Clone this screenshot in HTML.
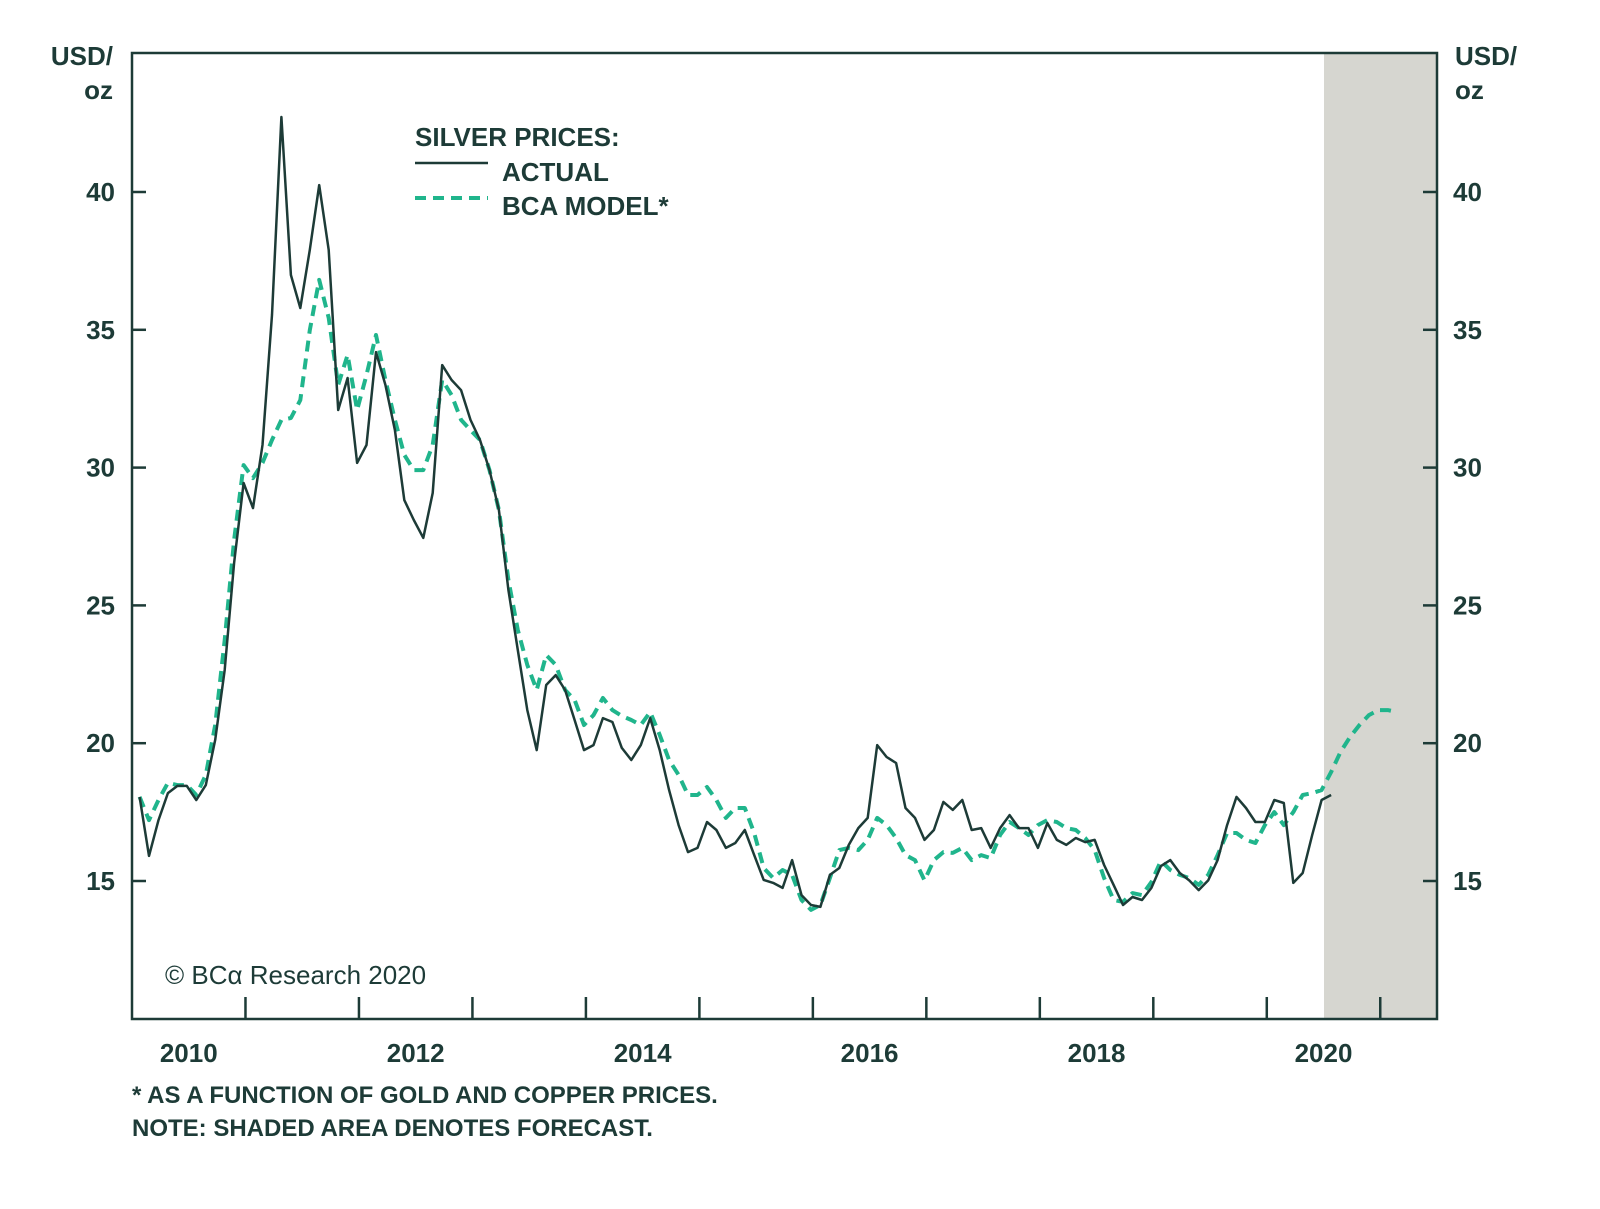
<!DOCTYPE html>
<html><head><meta charset="utf-8"><style>
html,body{margin:0;padding:0;background:#fff;}
svg{display:block;}
text{font-family:"Liberation Sans",sans-serif;fill:#1d3b37;}
</style></head><body>
<svg id="chart" width="1600" height="1209" viewBox="0 0 1600 1209">
<rect x="1324" y="53" width="113" height="966" fill="#d6d6d0"/>
<g id="axes"></g>
<g id="series"></g>
<text x="113" y="65" text-anchor="end" font-size="26" font-weight="bold">USD/</text>
<text x="113" y="99" text-anchor="end" font-size="26" font-weight="bold">oz</text>
<text x="1455" y="65" font-size="26" font-weight="bold">USD/</text>
<text x="1455" y="99" font-size="26" font-weight="bold">oz</text>
<g>
<text x="415" y="146" font-size="26" font-weight="bold">SILVER PRICES:</text>
<line x1="415" y1="163" x2="488" y2="163" stroke="#1d3b37" stroke-width="2.5"/>
<text x="502" y="181" font-size="26" font-weight="bold">ACTUAL</text>
<line x1="415" y1="198" x2="488" y2="198" stroke="#20b58c" stroke-width="4" stroke-dasharray="11,7"/>
<text x="502" y="215" font-size="26" font-weight="bold">BCA MODEL*</text>
</g>
<text x="165" y="984" font-size="26" font-family="Liberation Serif,serif">© BCα Research 2020</text>
<text x="132" y="1103" font-size="24" font-weight="bold">* AS A FUNCTION OF GOLD AND COPPER PRICES.</text>
<text x="132" y="1136" font-size="24" font-weight="bold">NOTE: SHADED AREA DENOTES FORECAST.</text>
</svg>
<script>
const yTicks=[15,20,25,30,35,40];
const xYears=[2010,2011,2012,2013,2014,2015,2016,2017,2018,2019,2020,2021];
const xLabels=[2010,2012,2014,2016,2018,2020];
const actual=[18.05,15.91,17.21,18.19,18.45,18.45,17.94,18.48,20.12,22.66,26.54,29.44,28.53,30.82,35.54,42.72,36.99,35.79,37.90,40.25,37.90,32.09,33.25,30.17,30.82,34.19,33.00,31.36,28.82,28.10,27.45,29.08,33.72,33.18,32.81,31.73,31.00,29.91,28.46,25.56,23.38,21.20,19.75,22.11,22.47,21.93,20.84,19.75,19.93,20.91,20.77,19.83,19.39,19.93,20.91,19.75,18.30,17.03,16.05,16.20,17.14,16.85,16.20,16.38,16.85,15.94,15.04,14.93,14.75,15.76,14.49,14.13,14.06,15.22,15.47,16.31,16.92,17.29,19.93,19.50,19.28,17.65,17.29,16.49,16.85,17.87,17.58,17.94,16.85,16.92,16.20,16.92,17.39,16.92,16.92,16.20,17.10,16.49,16.31,16.56,16.41,16.49,15.58,14.86,14.13,14.42,14.31,14.75,15.54,15.76,15.29,15.02,14.67,15.02,15.76,17.03,18.05,17.65,17.14,17.14,17.94,17.83,14.93,15.29,16.67,17.94,18.12];
const model=[18.05,17.21,17.94,18.56,18.48,18.48,18.12,18.85,20.66,23.74,27.37,30.09,29.62,30.17,31.00,31.73,31.80,32.45,34.99,36.81,35.43,33.00,34.09,32.09,33.36,34.81,33.18,31.73,30.46,29.91,29.91,30.82,33.18,32.63,31.73,31.36,31.00,29.91,28.46,25.92,24.11,22.84,21.93,23.20,22.84,21.93,21.57,20.66,21.02,21.64,21.20,20.99,20.84,20.66,21.13,20.30,19.39,18.85,18.12,18.12,18.41,17.94,17.29,17.65,17.65,16.74,15.47,15.11,15.40,15.22,14.31,13.95,14.13,15.11,16.12,16.20,16.12,16.49,17.29,17.03,16.56,15.94,15.76,15.02,15.76,16.05,16.02,16.20,15.76,15.94,15.83,16.67,17.14,16.92,16.67,17.03,17.21,17.14,16.92,16.85,16.56,16.12,15.11,14.31,14.24,14.56,14.49,14.96,15.73,15.40,15.22,15.11,14.86,15.22,15.94,16.74,16.74,16.49,16.38,17.03,17.50,17.03,17.50,18.12,18.19,18.30,18.95,19.68,20.22,20.66,21.02,21.20,21.20,21.13];
const startYear=2010, startOffsetMonths=0.8;
const L=132,R=1437,T=53,B=1019;
function xs(t){return L+(t-2010)/11.5*(R-L);}
function ys(v){return 881-(v-15)*27.56;}
function dateOf(i){return startYear+(i+startOffsetMonths)/12;}
const NS="http://www.w3.org/2000/svg";
const ax=document.getElementById('axes'), se=document.getElementById('series');
function mk(tag,attrs,parent){const e=document.createElementNS(NS,tag);for(const k in attrs)e.setAttribute(k,attrs[k]);parent.appendChild(e);return e;}
const frame=mk('rect',{x:L,y:T,width:R-L,height:B-T,fill:'none',stroke:'#1d3b37','stroke-width':2.5},ax);


yTicks.forEach(v=>{
  const y=ys(v);
  const t1=mk('line',{x1:L,y1:y,x2:L+14,y2:y,stroke:'#1d3b37','stroke-width':2.5},ax);
  
  
  const t2=mk('line',{x1:R-14,y1:y,x2:R,y2:y,stroke:'#1d3b37','stroke-width':2.5},ax);
  
  
  const a=mk('text',{x:115,y:y+9,'text-anchor':'end','font-size':26,'font-weight':'bold'},ax);a.textContent=v;
  
  
  const b=mk('text',{x:1453,y:y+9,'font-size':26,'font-weight':'bold'},ax);b.textContent=v;
  
  
});
xYears.forEach(yr=>{
  if(yr===2010)return;
  const x=xs(yr);
  const t=mk('line',{x1:x,y1:B,x2:x,y2:B-22,stroke:'#1d3b37','stroke-width':2.5},ax);
  
  
});
xLabels.forEach(yr=>{
  const l=mk('text',{x:xs(yr+0.5),y:1062,'text-anchor':'middle','font-size':26,'font-weight':'bold'},ax);l.textContent=yr;
  
  
});
function path(arr){return arr.map((v,i)=>(i?'L':'M')+xs(dateOf(i)).toFixed(1)+','+ys(v).toFixed(1)).join(' ');}
const pm=mk('path',{d:path(model),fill:'none',stroke:'#20b58c','stroke-width':4,'stroke-dasharray':'11,7','stroke-linejoin':'round'},se);


const pa=mk('path',{d:path(actual),fill:'none',stroke:'#1d3b37','stroke-width':2.5,'stroke-linejoin':'round'},se);


</script>
</body></html>
